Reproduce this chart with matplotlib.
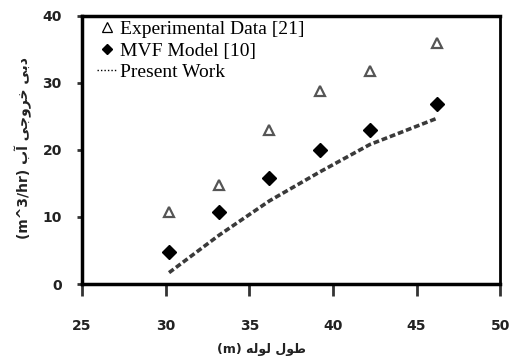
import matplotlib
matplotlib.use("Agg")
import matplotlib.pyplot as plt
from matplotlib.lines import Line2D

# pipe length (m)
length = [30.2, 33.2, 36.2, 39.2, 42.2, 46.2]
experimental = [10.8, 14.8, 22.9, 28.8, 31.8, 36.0]
mvf_model = [4.8, 10.7, 15.8, 20.0, 23.0, 26.9]
present_work = [1.7, 7.3, 12.4, 16.7, 20.8, 24.7]

x_ticks = [25, 30, 35, 40, 45, 50]
y_ticks = [0, 10, 20, 30, 40]

# Persian labels written in presentation forms (visual order)
xlabel = "(m) \ufeea\ufedf\ufeee\ufedf \ufedd\ufeee\ufec3"
ylabel = "(m^3/hr) \ufe8f\ufe81 \ufef0\ufe9f\ufeed\ufeae\ufea7 \ufef0\ufe91\ufea9"

fig = plt.figure(figsize=(5.13, 3.6), dpi=100)
ax = fig.add_axes([0.160, 0.211, 0.815, 0.745])

ax.plot(length, present_work, linestyle=(0, (1.6, 0.8)), color="#3a3a3a",
        linewidth=2.6, zorder=2)
ax.plot(length, experimental, linestyle="none", marker="^", markersize=7.5,
        markerfacecolor="white", markeredgecolor="#555555",
        markeredgewidth=1.6, zorder=3)
ax.plot(length, mvf_model, linestyle="none", marker="D", markersize=7.5,
        color="black", zorder=3)

ax.set_xlim(25, 50)
ax.set_ylim(0, 40)
ax.set_xticks(x_ticks)
ax.set_yticks(y_ticks)

tick_font = dict(family=["DejaVu Sans"], weight="bold", size=10)
ax.set_xticklabels([str(v) for v in x_ticks], fontdict=tick_font)
ax.set_yticklabels([str(v) for v in y_ticks], fontdict=tick_font)
ax.tick_params(axis="x", direction="out", length=8.5, width=2, pad=17, colors="#333333",
               labelcolor="#222222")
ax.tick_params(axis="y", direction="out", length=3.6, width=2, pad=11, colors="#333333",
               labelcolor="#222222")

for side in ["left", "bottom", "top"]:
    ax.spines[side].set_linewidth(2.5)
ax.spines["right"].set_linewidth(2)

fig.text(0.51, 0.028, xlabel, ha="center", va="center", fontsize=9,
         fontweight="bold", family=["DejaVu Sans"], color="#222222")
fig.text(0.045, 0.59, ylabel, ha="center", va="center", rotation=90,
         fontsize=10, fontweight="bold", family=["DejaVu Sans"], color="#222222")

handles = [
    Line2D([], [], linestyle="none", marker="^", markersize=7,
           markerfacecolor="white", markeredgecolor="black", markeredgewidth=0.9),
    Line2D([], [], linestyle="none", marker="D", markersize=5.5, color="black"),
    Line2D([], [], linestyle=(0, (1, 1.5)), color="black", linewidth=1.0),
]
labels = ["Experimental Data [21]", "MVF Model [10]", "Present Work"]
ax.legend(handles, labels, loc="upper left", frameon=False,
          prop={"family": "Liberation Serif", "size": 14},
          handlelength=1.0, handletextpad=0.2, labelspacing=0.2,
          borderpad=0.0, borderaxespad=0.0, bbox_to_anchor=(0.036, 0.982))

fig.savefig("out.png", dpi=100)
